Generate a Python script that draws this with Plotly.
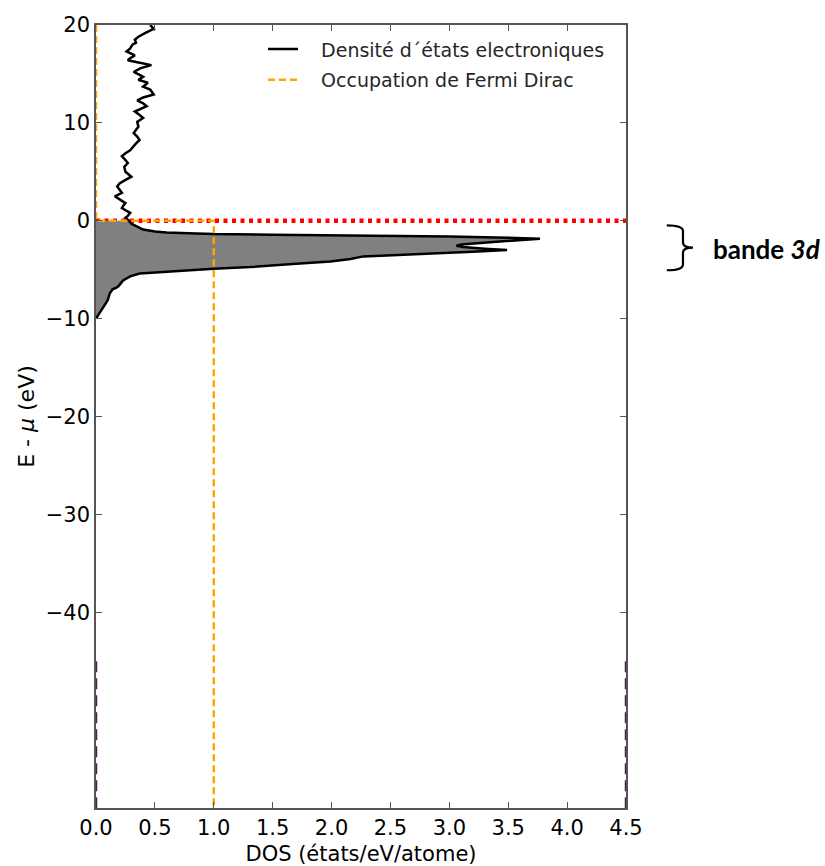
import plotly.graph_objects as go

# ---- data -------------------------------------------------------------
# Density of states (états/eV/atome) vs energy E - mu (eV)
energy = [20.0, 19.6, 19.2, 18.8, 18.5, 18.2, 18.0, 17.6, 17.3, 17.1, 16.9, 16.6,
          16.4, 16.2, 15.9, 15.6, 15.2, 14.9, 14.7, 14.4, 14.1, 13.7, 13.4, 12.9,
          12.6, 12.3, 12.0, 11.7, 11.4, 11.15, 10.8, 10.5, 10.1, 9.6, 9.3, 8.95,
          8.6, 8.25, 7.9, 7.6, 7.2, 6.9, 6.6, 6.2, 5.9, 5.5, 5.0, 4.7, 4.5, 4.1,
          3.8, 3.5, 3.2, 2.85, 2.5, 2.2, 1.8, 1.5, 1.3, 1.0, 0.8, 0.5, 0.3, 0.1,
          0.0, -0.3, -0.6, -0.9, -1.1, -1.2, -1.3, -1.36, -1.42, -1.46, -1.52,
          -1.6, -1.7, -1.84, -2.15, -2.42, -2.55, -2.68, -2.85, -3.0, -3.17, -3.37,
          -3.57, -3.64, -3.9, -4.16, -4.4, -4.73, -4.9, -5.17, -5.4, -5.68, -6.1,
          -6.4, -6.7, -6.85, -7.0, -7.2, -7.35, -7.7, -8.1, -8.5, -8.9, -9.3, -9.7,
          -10.0]
dos = [0.46, 0.49, 0.42, 0.36, 0.33, 0.34, 0.31, 0.29, 0.26, 0.30, 0.33, 0.29,
       0.27, 0.35, 0.47, 0.38, 0.32, 0.37, 0.40, 0.36, 0.44, 0.40, 0.46, 0.49,
       0.40, 0.35, 0.40, 0.43, 0.37, 0.33, 0.37, 0.40, 0.35, 0.36, 0.34, 0.32,
       0.35, 0.37, 0.34, 0.32, 0.29, 0.25, 0.22, 0.25, 0.27, 0.24, 0.25, 0.28,
       0.30, 0.24, 0.20, 0.18, 0.20, 0.22, 0.16, 0.20, 0.25, 0.23, 0.22, 0.26,
       0.29, 0.27, 0.25, 0.27, 0.28, 0.30, 0.35, 0.40, 0.50, 0.60, 0.85, 1.0,
       1.5, 2.0, 2.5, 3.0, 3.4, 3.77, 3.4, 3.1, 3.06, 3.12, 3.3, 3.49, 3.2, 2.8,
       2.4, 2.27, 2.16, 1.99, 1.7, 1.31, 1.0, 0.66, 0.37, 0.29, 0.23, 0.21,
       0.19, 0.17, 0.14, 0.13, 0.12, 0.11, 0.10, 0.08, 0.06, 0.04, 0.02, 0.0]

# Fermi-Dirac occupation (T -> 0) : step at E = mu
fd_energy = [20.0, 0.0, 0.0, -60.0]
fd_occupation = [0.0, 0.0, 1.0, 1.0]

# Fermi level marker line (E = mu)
fermi_x = [0.0, 4.5]
fermi_y = [0.0, 0.0]

# dashed vertical markers at bottom of the frame
low_x = [0.0, 0.0, None, 4.5, 4.5]
low_y = [-45.0, -60.0, None, -45.0, -60.0]

x_ticks = [0.0, 0.5, 1.0, 1.5, 2.0, 2.5, 3.0, 3.5, 4.0, 4.5]
y_ticks = [20, 10, 0, -10, -20, -30, -40]

# occupied part (E <= 0) to be filled
occ_e = [e for e in energy if e <= 0]
occ_d = [d for e, d in zip(energy, dos) if e <= 0]

FONT = "DejaVu Sans"
GAP = "\u00a0\u00a0\u00a0"

fig = go.Figure()

fig.add_trace(go.Scatter(x=fermi_x, y=fermi_y, mode="lines",
                         line=dict(color="#ff0000", width=4.5, dash="4px,4.5px"),
                         showlegend=False, hoverinfo="skip"))
fig.add_trace(go.Scatter(x=occ_d, y=occ_e, mode="lines", fill="tozerox",
                         fillcolor="#808080", line=dict(width=0, color="#808080"),
                         showlegend=False, hoverinfo="skip"))
fig.add_trace(go.Scatter(x=dos, y=energy, mode="lines",
                         name=GAP + "Densité d\u00b4états electroniques",
                         legendgroup="a",
                         line=dict(color="#000000", width=2.5)))
fig.add_trace(go.Scatter(x=fd_occupation, y=fd_energy, mode="lines",
                         name=GAP + "Occupation de Fermi Dirac",
                         legendgroup="b", cliponaxis=False,
                         line=dict(color="#ffa500", width=2.5, dash="7px,4px")))
fig.add_trace(go.Scatter(x=low_x, y=low_y, mode="lines", cliponaxis=False,
                         line=dict(color="#4b1f52", width=2.5, dash="11px,6px"),
                         showlegend=False, hoverinfo="skip"))

# brace + label for the 3d band (decoration, paper-x / data-y)
fig.add_shape(type="path", xref="paper", yref="y",
              path="M 1.077,-0.48 Q 1.1075,-0.48 1.1075,-1.06 L 1.1075,-2.22 "
                   "Q 1.1075,-2.75 1.1264,-2.75 Q 1.1075,-2.75 1.1075,-3.25 "
                   "L 1.1075,-4.47 Q 1.1075,-5.06 1.077,-5.06",
              line=dict(color="#000000", width=2.2))
fig.add_annotation(xref="paper", yref="y", x=1.160, y=-2.9, xanchor="left",
                   yanchor="middle", showarrow=False,
                   text="<b>bande <i>3d</i></b>",
                   font=dict(family="Lato", size=26, color="#000000"))

fig.update_layout(
    width=825, height=866,
    margin=dict(l=96, r=199, t=25, b=58),
    paper_bgcolor="white", plot_bgcolor="white",
    font=dict(family=FONT, size=21, color="#000000"),
    showlegend=True,
    legend=dict(x=0.315, y=0.9933, xanchor="left", yanchor="top",
                bgcolor="rgba(0,0,0,0)", traceorder="grouped",
                tracegroupgap=3,
                font=dict(family=FONT, size=19, color="#262626")),
    xaxis=dict(range=[0, 4.5], tickvals=x_ticks, tickformat=".1f",
               ticks="inside", ticklen=6, tickcolor="#555",
               showline=True, linecolor="#555", linewidth=1.5, mirror="ticks",
               showgrid=False, zeroline=False, automargin=False,
               title=dict(text="DOS (états/eV/atome)", standoff=10,
                          font=dict(size=21))),
    yaxis=dict(range=[-60, 20], tickvals=y_ticks,
               ticks="inside", ticklen=6, tickcolor="#555",
               showline=True, linecolor="#555", linewidth=1.5, mirror="ticks",
               showgrid=False, zeroline=False, automargin=False,
               title=dict(text="E - <i>μ</i> (eV)", standoff=5,
                          font=dict(size=22))),
)

# remove the default 8px page margin so the figure fills the window exactly
fig.write_html("out.html", config={"displayModeBar": False},
               post_script="document.body.style.margin='0';")
